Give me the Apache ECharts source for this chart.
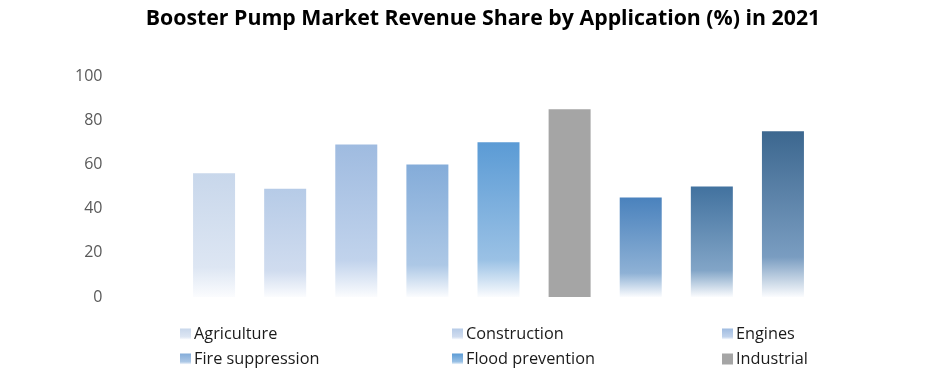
<!DOCTYPE html>
<html><head><meta charset="utf-8">
<script src="https://cdn.jsdelivr.net/npm/echarts@6/dist/echarts.min.js"></script>
<style>html,body{margin:0;padding:0;background:#fff}#c{width:935px;height:371px}</style>
</head><body><div id="c"></div>
<script>
var categories = ['Agriculture','Construction','Engines','Fire suppression','Flood prevention','Industrial','Residential','Water treatment','Others'];
var values = [56, 49, 69, 60, 70, 85, 45, 50, 75];
var yTicks = [0, 20, 40, 60, 80, 100];
var legendShown = ['Agriculture','Construction','Engines','Fire suppression','Flood prevention','Industrial'];
var topColors = ['#c8d7eb','#b6cbe7','#9fbbe0','#84acd9','#5b9bd5','#a5a5a5','#4a82bd','#42729f','#3c678f'];
var midColors = ['#dde6f3','#d0dcef','#c1d3ec','#adc8e6','#9ac1e5','#a5a5a5','#8eb1d5','#82a5c7','#7a9dc1'];

var series = categories.map(function(name, i){
  var d = categories.map(function(_, j){ return j === i ? values[i] : '-'; });
  var color = (i === 5) ? topColors[i] : new echarts.graphic.LinearGradient(0,0,0,1,[
    {offset:0, color: topColors[i]},
    {offset:0.76, color: midColors[i]},
    {offset:1, color: '#fbfcfe'}
  ]);
  return {name:name, type:'bar', stack:'s', data:d, barWidth:42, itemStyle:{color:color}};
});

var legendPos = [[175,321],[447,321],[717,321],[175,346],[447,346],[717,346]];
var legends = legendShown.map(function(n, k){
  return {data:[n], left:legendPos[k][0], top:legendPos[k][1], itemWidth:11, itemHeight:11, itemGap:0,
    icon:'rect', selectedMode:false,
    textStyle:{fontFamily:'Open Sans', fontSize:16.3, color:'#1a1a1a', padding:[0,0,0,-2]}};
});

var chart = echarts.init(document.getElementById('c'));
chart.setOption({
  animation:false,
  title:{text:'Booster Pump Market Revenue Share by Application (%) in 2021', left:478, textAlign:'center', top:3,
    textStyle:{fontFamily:'Open Sans', fontWeight:'bold', fontSize:21.3, color:'#000'}},
  legend: legends,
  grid:{left:178.5, right:116.5, top:76, bottom:74},
  xAxis:{type:'category', data:categories, axisLine:{show:false}, axisTick:{show:false}, axisLabel:{show:false}},
  yAxis:{type:'value', min:yTicks[0], max:yTicks[yTicks.length-1], interval:20,
    axisLine:{show:false}, axisTick:{show:false}, splitLine:{show:false},
    axisLabel:{margin:76, fontFamily:'Open Sans', fontSize:16, color:'#595959'}},
  series: series
});
</script></body></html>
